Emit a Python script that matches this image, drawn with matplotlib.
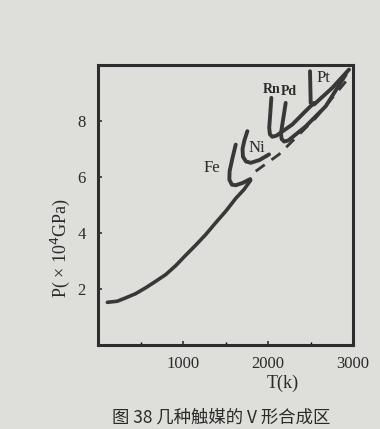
import matplotlib
matplotlib.use('Agg')
import matplotlib.pyplot as plt
from matplotlib.ticker import MultipleLocator

plt.rcParams['font.family'] = ['Liberation Serif', 'Noto Sans CJK SC', 'DejaVu Sans']

# main line: solid part (graphite side) and dashed continuation
main_t = [110, 227, 326, 443, 561, 678, 796, 914, 1031, 1149, 1267, 1384,
          1502, 1620, 1718, 1796]
main_p = [1.52, 1.56, 1.68, 1.83, 2.04, 2.27, 2.51, 2.83, 3.20, 3.56, 3.94,
          4.36, 4.77, 5.23, 5.55, 5.88]
dash_t = [1855, 2129, 2561, 2953]
dash_p = [6.2, 6.8, 8.1, 9.54]

# V-shaped synthesis regions of the catalysts
fe_t = [1620, 1580, 1548, 1545, 1575, 1620, 1700, 1790]
fe_p = [7.15, 6.65, 6.2, 5.9, 5.72, 5.7, 5.78, 5.92]
ni_t = [1757, 1722, 1700, 1705, 1740, 1796, 1900, 2012]
ni_p = [7.63, 7.3, 7.0, 6.72, 6.55, 6.5, 6.6, 6.8]
rh_t = [2039, 2025, 2014, 2022, 2050, 2100, 2286, 2443, 2541]
rh_p = [8.82, 8.2, 7.75, 7.52, 7.43, 7.47, 7.87, 8.35, 8.64]
pd_t = [2208, 2175, 2152, 2160, 2190, 2240, 2443, 2679, 2914]
pd_p = [8.64, 8.0, 7.55, 7.35, 7.26, 7.3, 7.8, 8.52, 9.65]
pt_t = [2494, 2498, 2502, 2541, 2757, 2953]
pt_p = [9.77, 9.2, 8.64, 8.58, 9.18, 9.83]

labels = ['Fe', 'Ni', 'Rn', 'Pd', 'Pt']
label_t = [1340, 1874, 2040, 2240, 2650]
label_p = [6.32, 7.04, 9.12, 9.06, 9.54]
label_size = [12, 12, 10, 10, 12]
label_weight = ['normal', 'normal', 'bold', 'bold', 'normal']

line_color = '#383838'
text_color = '#2a2a2a'
paper = '#dededa'

fig = plt.figure(figsize=(3.8, 4.29), dpi=100, facecolor=paper)
ax = fig.add_axes([0.258, 0.196, 0.671, 0.653], facecolor=paper)

ax.plot(main_t, main_p, color=line_color, lw=2.6, solid_capstyle='round',
        solid_joinstyle='round')
ax.plot(dash_t, dash_p, color=line_color, lw=2.0, ls=(0, (4, 3)))
for ts, ps in [(fe_t, fe_p), (ni_t, ni_p), (rh_t, rh_p), (pd_t, pd_p), (pt_t, pt_p)]:
    ax.plot(ts, ps, color=line_color, lw=2.8, solid_capstyle='round',
            solid_joinstyle='round')

for name, t, p, fs, fw in zip(labels, label_t, label_p, label_size, label_weight):
    ax.text(t, p, name, fontsize=fs, fontweight=fw, color=text_color,
            ha='center', va='center')

ax.set_xlim(0, 3000)
ax.set_ylim(0, 10)
ax.set_xticks([1000, 2000, 3000])
ax.set_yticks([2, 4, 6, 8])
ax.xaxis.set_minor_locator(MultipleLocator(500))
ax.tick_params(direction='in', length=3, width=1.2, colors='#333333',
               labelsize=12, labelcolor=text_color)
ax.tick_params(axis='x', pad=8)
ax.tick_params(axis='y', pad=9)
ax.tick_params(which='minor', direction='in', length=2, width=1.0)
for s in ax.spines.values():
    s.set_linewidth(2.2)
    s.set_color('#2e2e2e')

fig.text(283 / 380, 1 - 383 / 429, 'T(k)', fontsize=13, color=text_color,
         ha='center', va='center')
fig.text(60 / 380, 1 - 248 / 429, 'P( × 10$^4$GPa)', fontsize=13,
         color=text_color, ha='center', va='center', rotation=90)

fig.text(221 / 380, 1 - 418 / 429, '图 38 几种触媒的 V 形合成区', fontsize=12.5,
         ha='center', va='center', color=text_color,
         family=['Noto Sans CJK SC', 'DejaVu Sans'])

plt.savefig('out.png', dpi=100, facecolor=paper)
